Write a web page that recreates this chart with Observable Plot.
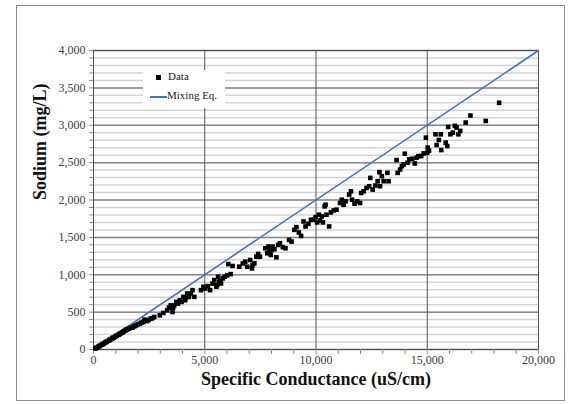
<!DOCTYPE html>
<html>
<head>
<meta charset="utf-8">
<script src="https://cdn.jsdelivr.net/npm/d3@7"></script>
<script src="https://cdn.jsdelivr.net/npm/@observablehq/plot@0.6"></script>
<style>
  html, body { margin: 0; padding: 0; background: white; }
  #wrap { position: relative; width: 568px; height: 404px; }
  #border { position: absolute; left: 16px; top: 5px; width: 547px; height: 394px; border: 1px solid #8c8c8c; pointer-events: none; }
  #legend { position: absolute; left: 143px; top: 70px; width: 82px; height: 38px; background: white;
            font-family: 'Liberation Serif', 'Times New Roman', serif; font-size: 11px; color: #222; }
  .row { position: absolute; white-space: nowrap; }
  .sq { position: absolute; width: 5px; height: 5px; background: black; }
  .ln { position: absolute; height: 2px; background: #4472C4; }
</style>
</head>
<body>
<div id="wrap">
  <div id="chart"></div>
  <div id="legend"></div>
  <div id="border"></div>
</div>
<script>
// Specific conductance (uS/cm)
const condX = [
  80,150,220,300,380,450,520,600,680,750,830,900,980,1050,1130,1200,1280,1350,1420,1500,
  120,260,420,560,720,860,1010,1160,1310,1460,
  1590,1680,1750,1830,1910,2000,2080,2160,2240,2290,2410,2480,2570,2650,2730,2980,
  3140,3310,3390,3470,3550,3630,3720,3800,3880,3960,4040,4120,4210,4290,4370,4450,4530,3580,4150,
  4830,4940,5020,5140,5240,5350,5430,5520,5600,5650,5730,5810,5890,6010,6170,5560,5700,
  6060,6250,6550,6710,6820,6910,7040,7120,7230,7320,7400,7480,7150,
  7720,7810,7860,7920,7970,8050,8130,8220,8300,8380,8510,8630,8790,8900,7900,8000,
  9030,9120,9230,9330,9440,9530,9660,9770,9890,9980,10050,10130,10180,10260,10310,10390,
  10430,10470,10590,10670,10800,10920,11080,11160,11240,11330,11490,11570,11620,11730,11850,11980,
  12030,12140,12270,12390,12440,12550,12670,12770,12850,12880,12960,13040,13210,13260,
  13620,13670,13780,13860,13990,13940,14110,14190,14320,14440,14520,14600,14730,14840,
  14940,15020,15000,15080,15370,15420,15520,15610,15630,15830,15900,15940,16040,16150,16240,16320,16400,16480,
  16730,16940,17630,18230
];
// Sodium (mg/L)
const sodiumY = [
  12,25,38,52,65,78,92,105,118,130,145,158,170,185,198,212,225,240,255,268,
  20,45,72,98,128,155,180,205,232,260,
  278,290,291,310,323,335,345,360,368,399,381,395,413,420,435,457,
  489,525,561,592,502,592,637,614,659,637,704,659,749,704,749,794,704,560,690,
  794,839,816,848,794,883,928,839,973,906,883,951,973,991,1009,860,920,
  1143,1117,1108,1152,1175,1108,1197,1085,1152,1242,1278,1242,1130,
  1354,1287,1377,1323,1265,1377,1341,1233,1399,1422,1368,1354,1466,1444,1300,1330,
  1601,1637,1565,1520,1713,1646,1682,1735,1735,1771,1700,1803,1727,1780,1700,1915,
  1937,1803,1646,1834,1861,1870,1960,2004,1937,1982,2072,2117,2004,1951,1982,1960,
  2094,2117,2161,2184,2296,2139,2193,2251,2372,2184,2318,2251,2363,2251,
  2534,2363,2408,2453,2619,2475,2498,2543,2552,2489,2565,2587,2587,2623,
  2834,2700,2632,2660,2879,2735,2803,2879,2668,2767,2722,2978,2879,2901,2991,2969,2879,2924,
  3036,3130,3058,3300
];
// Mixing equation line
const mixX = [0, 20000];
const mixY = [0, 4000];

const data = condX.map((x, i) => ({x, y: sodiumY[i]}));
const mix = mixX.map((x, i) => ({x, y: mixY[i]}));

const serif = "'Liberation Serif', 'Times New Roman', serif";
const chart = Plot.plot({
  width: 568, height: 404,
  marginLeft: 93, marginRight: 30, marginTop: 50, marginBottom: 55,
  x: {domain: [0, 20000]},
  y: {domain: [0, 4000]},
  style: {fontFamily: serif, fontSize: "12px", background: "white", color: "#404040"},
  marks: [
    Plot.gridY(d3.range(0, 4001, 100), {stroke: "#d4d4d4", strokeOpacity: 1, strokeWidth: 1.5}),
    Plot.gridY(d3.range(0, 4001, 500), {stroke: "#8a8a8a", strokeOpacity: 1, strokeWidth: 1.5}),
    Plot.gridX(d3.range(0, 20001, 5000), {stroke: "#505050", strokeOpacity: 1}),
    Plot.frame({stroke: "#505050"}),
    Plot.axisY(d3.range(0, 4001, 100), {tickSize: 4, tickFormat: () => "", label: null, stroke: "#909090"}),
    Plot.axisY(d3.range(0, 4001, 500), {tickSize: 0, tickPadding: 8, tickFormat: d3.format(","), label: null}),
    Plot.axisX(d3.range(0, 20001, 1000), {tickSize: 5, tickFormat: () => "", label: null, stroke: "#909090"}),
    Plot.axisX(d3.range(0, 20001, 5000), {tickSize: 0, tickPadding: 6, tickFormat: d3.format(","), label: null}),
    Plot.line(mix, {x: "x", y: "y", stroke: "#4472C4", strokeWidth: 1.6}),
    Plot.dot(data, {x: "x", y: "y", symbol: "square", r: 2.6, fill: "black", stroke: null}),
    Plot.text(["Specific Conductance (uS/cm)"], {frameAnchor: "bottom", dy: 35, fontSize: 18, fontWeight: "bold", fill: "#111"}),
    Plot.text(["Sodium (mg/L)"], {frameAnchor: "left", dx: -53, rotate: -90, fontSize: 18, fontWeight: "bold", fill: "#111"})
  ]
});
document.getElementById("chart").appendChild(chart);

const legend = document.getElementById("legend");
legend.innerHTML =
  '<div class="sq" style="left:13px;top:5px"></div>' +
  '<div class="row" style="left:25px;top:0px">Data</div>' +
  '<div class="ln" style="left:7px;top:26px;width:17px"></div>' +
  '<div class="row" style="left:24px;top:19px">Mixing Eq.</div>';
</script>
</body>
</html>
